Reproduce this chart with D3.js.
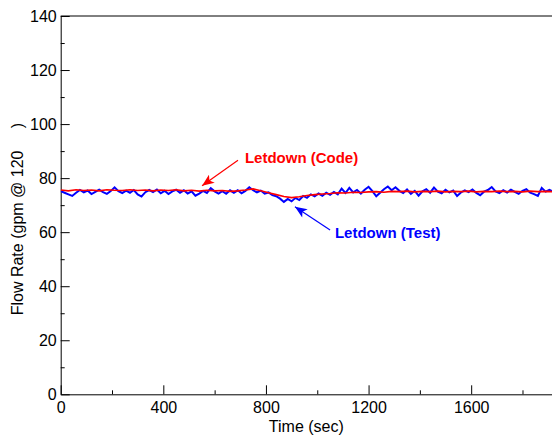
<!DOCTYPE html>
<html>
<head>
<meta charset="utf-8">
<script src="https://cdn.jsdelivr.net/npm/d3@7"></script>
<style>
  body { margin: 0; background: #fff; }
  svg { display: block; font-family: "Liberation Sans", Arial, sans-serif; }
</style>
</head>
<body>
<svg id="svg" width="552" height="439"></svg>
<script>
// test data, sampled every 15 s
const testTime = d3.range(0, 1921, 15)
const testFlow = [
	75.2, 74.6, 74.0, 73.4, 74.6, 75.6, 74.7, 75.4, 74.1, 74.9,
	75.7, 74.8, 74.2, 75.2, 76.6, 75.2, 74.5, 75.4, 74.6, 75.6,
	74.0, 73.2, 74.8, 75.6, 74.8, 75.8, 74.4, 75.3, 74.1, 75.1,
	75.7, 74.6, 75.5, 74.3, 75.1, 73.5, 74.3, 75.3, 74.5, 76.3,
	75.1, 74.3, 75.2, 74.2, 75.5, 74.6, 75.5, 74.4, 75.3, 76.6,
	75.5, 74.7, 75.4, 74.3, 74.7, 73.7, 73.3, 72.4, 71.2, 72.3,
	71.4, 72.7, 71.9, 73.4, 72.7, 74.0, 73.3, 74.3, 73.5, 74.6,
	73.8, 74.9, 74.0, 76.1, 74.5, 76.4, 74.7, 75.6, 74.3, 75.7,
	76.8, 75.2, 73.3, 74.6, 75.9, 76.9, 75.5, 76.6, 75.3, 74.5,
	75.8, 74.2, 75.3, 73.5, 75.1, 75.9, 74.6, 76.5, 75.0, 74.4,
	75.7, 74.7, 75.4, 73.4, 74.7, 75.5, 74.8, 75.8, 74.5, 73.7,
	75.0, 75.6, 76.7, 75.1, 74.5, 75.5, 74.7, 75.7, 74.9, 74.2,
	75.3, 75.9, 74.6, 74.1, 73.4, 76.4, 75.0, 75.7, 75.0
]

// code prediction, sampled every 30 s
const codeTime = d3.range(0, 1921, 30)
const codeFlow = [
	75.6, 75.3, 75.7, 75.4, 75.6, 75.3, 75.7, 75.5, 75.4, 75.7,
	75.4, 75.6, 75.3, 75.6, 75.4, 75.7, 75.3, 75.5, 75.2, 75.5,
	75.3, 75.4, 75.1, 75.3, 75.6, 76.0, 75.3, 74.6, 73.9, 73.2,
	72.8, 73.1, 73.6, 73.9, 74.1, 74.3, 74.6, 74.5, 74.8, 74.7,
	74.9, 75.0, 74.8, 75.1, 75.0, 75.2, 74.9, 75.1, 75.0, 75.2,
	74.9, 75.1, 75.0, 75.2, 74.9, 75.1, 75.0, 75.2, 75.0, 75.1,
	74.9, 75.2, 75.0, 75.1, 75.0
]

const xMajor = [0, 400, 800, 1200, 1600]
const xMinor = [200, 600, 1000, 1400, 1800]
const yMajor = [0, 20, 40, 60, 80, 100, 120, 140]
const yMinor = [10, 30, 50, 70, 90, 110, 130]

// annotation anchors in data units: [time, flow]
const labels = [
	{ text: 'Letdown (Code)', color: '#ff0000', at: [718, 85.6], from: [691, 86.6], to: [551, 77.2] },
	{ text: 'Letdown (Test)', color: '#0000ff', at: [1069, 58.0], from: [1050, 60.8], to: [913, 69.4] }
]

const $svg = d3.select('#svg')
const m = { left: 60.7, right: 552, top: 16, bottom: 394.3 }

const x = d3.scaleLinear().domain([0, 1915]).range([m.left, m.right])
const y = d3.scaleLinear().domain([0, 140]).range([m.bottom, m.top])

const styleAxis = (g) => {
	g.selectAll('path, line').attr('stroke', '#000').attr('stroke-width', 1)
	g.selectAll('text').attr('font-size', 16).attr('fill', '#000')
		.attr('font-family', '"Liberation Sans", Arial, sans-serif')
}

$svg.append('defs').append('clipPath').attr('id', 'plot')
	.append('rect')
	.attr('x', m.left).attr('y', m.top)
	.attr('width', m.right - m.left).attr('height', m.bottom - m.top)

// frame top edge
$svg.append('line')
	.attr('x1', m.left).attr('x2', m.right + 10)
	.attr('y1', m.top).attr('y2', m.top)
	.attr('stroke', '#000')

$svg.append('g')
	.attr('transform', `translate(0,${m.bottom})`)
	.call(d3.axisBottom(x).tickValues(xMinor).tickSize(-4).tickFormat(''))
	.call(g => g.select('.domain').remove())
	.call(styleAxis)

$svg.append('g')
	.attr('transform', `translate(0,${m.bottom})`)
	.call(d3.axisBottom(x).tickValues(xMajor).tickFormat(d3.format('d'))
		.tickSizeInner(-9).tickSizeOuter(0).tickPadding(7.5))
	.call(styleAxis)

$svg.append('g')
	.attr('transform', `translate(${m.left},0)`)
	.call(d3.axisLeft(y).tickValues(yMinor).tickSize(-4).tickFormat(''))
	.call(g => g.select('.domain').remove())
	.call(styleAxis)

$svg.append('g')
	.attr('transform', `translate(${m.left},0)`)
	.call(d3.axisLeft(y).tickValues(yMajor).tickFormat(d3.format('d'))
		.tickSizeInner(-9).tickSizeOuter(0).tickPadding(4))
	.call(styleAxis)

$svg.append('text')
	.attr('x', (m.left + m.right) / 2)
	.attr('y', 431.5)
	.attr('text-anchor', 'middle')
	.attr('font-size', 16)
	.text('Time (sec)')

$svg.append('text')
	.attr('transform', `translate(23,${(m.top + m.bottom) / 2 + 14}) rotate(-90)`)
	.attr('text-anchor', 'middle')
	.attr('font-size', 16)
	.style('white-space', 'pre')
	.text('Flow Rate (gpm @ 120     )')

const line = d3.line()
	.x(d => x(d[0]))
	.y(d => y(d[1]))

const plot = $svg.append('g').attr('clip-path', 'url(#plot)')

plot.append('path')
	.attr('d', line(d3.zip(testTime, testFlow)))
	.attr('fill', 'none')
	.attr('stroke', '#0000ff')
	.attr('stroke-width', 2)

plot.append('path')
	.attr('d', line(d3.zip(codeTime, codeFlow)))
	.attr('fill', 'none')
	.attr('stroke', '#ff0000')
	.attr('stroke-width', 1.6)

labels.forEach((l, i) => {
	const id = `head${i}`
	$svg.select('defs').append('marker')
		.attr('id', id)
		.attr('markerUnits', 'userSpaceOnUse')
		.attr('viewBox', '0 0 12 10')
		.attr('refX', 12).attr('refY', 5)
		.attr('markerWidth', 13).attr('markerHeight', 10)
		.attr('orient', 'auto')
		.append('path')
		.attr('d', 'M0,0 L12,5 L0,10 L3,5 Z')
		.attr('fill', l.color)

	$svg.append('line')
		.attr('x1', x(l.from[0])).attr('y1', y(l.from[1]))
		.attr('x2', x(l.to[0])).attr('y2', y(l.to[1]))
		.attr('stroke', l.color)
		.attr('stroke-width', 1.2)
		.attr('marker-end', `url(#${id})`)

	$svg.append('text')
		.attr('x', x(l.at[0])).attr('y', y(l.at[1]))
		.attr('fill', l.color)
		.attr('font-size', 15)
		.attr('font-weight', 'bold')
		.text(l.text)
})
</script>
</body>
</html>
